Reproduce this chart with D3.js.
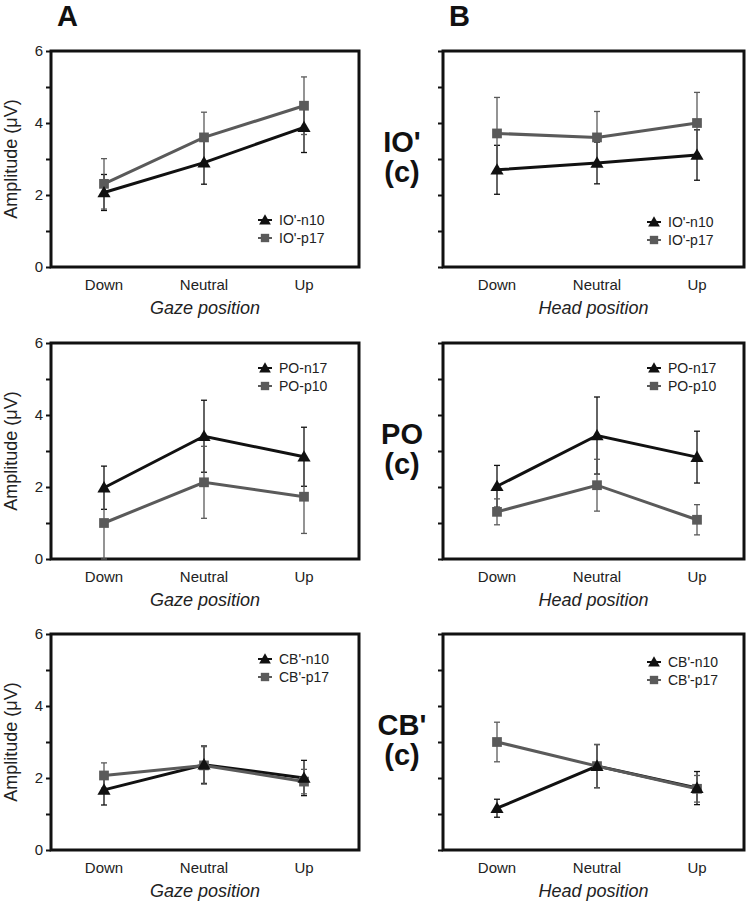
<!DOCTYPE html>
<html>
<head>
<meta charset="utf-8">
<script src="https://d3js.org/d3.v7.min.js"></script>
<style>
body { margin: 0; background: #fff; }
text { font-family: Arial, "Liberation Sans", sans-serif; }
</style>
</head>
<body>
<svg id="fig" width="749" height="906"></svg>
<script>
const categories = ["Down", "Neutral", "Up"];
const rowLabels = ["IO'", "PO", "CB'"];
const blackNames = ["IO'-n10", "PO-n17", "CB'-n10"];
const grayNames = ["IO'-p17", "PO-p10", "CB'-p17"];
const yTicks = [0, 1, 2, 3, 4, 5, 6];

// column A : gaze position (rows IO', PO, CB')
const gazeBlack    = [[2.07, 2.90, 3.88], [1.98, 3.41, 2.84], [1.67, 2.37, 2.00]];
const gazeBlackErr = [[0.50, 0.60, 0.70], [0.60, 1.00, 0.82], [0.42, 0.52, 0.49]];
const gazeGray     = [[2.31, 3.60, 4.48], [1.00, 2.13, 1.73], [2.07, 2.35, 1.90]];
const gazeGrayErr  = [[0.70, 0.70, 0.80], [1.00, 1.00, 1.02], [0.35, 0.52, 0.34]];

// column B : head position
const headBlack    = [[2.70, 2.89, 3.11], [2.02, 3.43, 2.83], [1.16, 2.33, 1.72]];
const headBlackErr = [[0.68, 0.58, 0.70], [0.58, 1.07, 0.72], [0.25, 0.60, 0.46]];
const headGray     = [[3.71, 3.60, 4.00], [1.31, 2.05, 1.09], [3.00, 2.33, 1.70]];
const headGrayErr  = [[1.00, 0.72, 0.85], [0.36, 0.72, 0.42], [0.55, 0.60, 0.37]];

const BLACK = "#111", GRAY = "#5a5a5a";
const svg = d3.select("#fig");
const rowTop = [51, 343, 634];
const plotH = 216;

const cols = [
  {letter: "A", left: 51, width: 308, padL: 53, padR: 55, title: "Gaze position",
   black: gazeBlack, blackErr: gazeBlackErr, gray: gazeGray, grayErr: gazeGrayErr,
   yLabels: true, legDx: 214, legDy: [169, 25, 25]},
  {letter: "B", left: 443, width: 301, padL: 54, padR: 47, title: "Head position",
   black: headBlack, blackErr: headBlackErr, gray: headGray, grayErr: headGrayErr,
   yLabels: false, legDx: 211, legDy: [171, 25, 28]}
];

const triangle = d3.symbol().type(d3.symbolTriangle).size(75);
const square = d3.symbol().type(d3.symbolSquare).size(95);
const triSmall = d3.symbol().type(d3.symbolTriangle).size(60);
const sqSmall = d3.symbol().type(d3.symbolSquare).size(70);

cols.forEach(col => {
  svg.append("text").attr("x", col.left + 6).attr("y", 26)
    .attr("font-size", 29).attr("font-weight", "bold").attr("fill", "#111")
    .text(col.letter);

  rowLabels.forEach((rl, r) => {
    const top = rowTop[r];
    const g = svg.append("g");
    const x = d3.scalePoint().domain(categories)
      .range([col.left + col.padL, col.left + col.width - col.padR]);
    const y = d3.scaleLinear().domain([0, 6]).range([top + plotH, top]);

    // y axis ticks
    const ax = g.append("g").attr("transform", `translate(${col.left},0)`)
      .call(d3.axisLeft(y).tickValues(yTicks).tickSize(5).tickPadding(3)
        .tickFormat(d => col.yLabels && d % 2 === 0 ? d : ""));
    ax.select(".domain").remove();
    ax.selectAll(".tick line").attr("stroke", BLACK).attr("stroke-width", 2);
    ax.selectAll(".tick text").attr("font-size", 15).attr("fill", "#222")
      .attr("font-family", "Arial, 'Liberation Sans', sans-serif");

    // frame
    g.append("rect").attr("x", col.left).attr("y", top)
      .attr("width", col.width).attr("height", plotH)
      .attr("fill", "none").attr("stroke", BLACK).attr("stroke-width", 3);

    // x tick labels
    g.selectAll("text.xl").data(categories).join("text").attr("class", "xl")
      .attr("x", d => x(d)).attr("y", top + plotH + 23)
      .attr("text-anchor", "middle").attr("font-size", 15).attr("fill", "#222")
      .text(d => d);

    g.append("text").attr("x", col.left + col.width / 2).attr("y", top + plotH + 47)
      .attr("text-anchor", "middle").attr("font-size", 18).attr("font-style", "italic")
      .attr("fill", "#222").text(col.title);

    if (col.yLabels) {
      g.append("text").attr("transform", `translate(17,${top + plotH / 2}) rotate(-90)`)
        .attr("text-anchor", "middle").attr("font-size", 18).attr("fill", "#222")
        .text("Amplitude (\u03bcV)");
    } else {
      g.append("text").attr("x", 402).attr("y", top + 101).attr("text-anchor", "middle")
        .attr("font-size", 29).attr("font-weight", "bold").attr("fill", "#111").text(rl);
      g.append("text").attr("x", 402).attr("y", top + 131).attr("text-anchor", "middle")
        .attr("font-size", 29).attr("font-weight", "bold").attr("fill", "#111").text("(c)");
    }

    const series = [
      {vals: col.black[r], errs: col.blackErr[r], color: BLACK, sym: triangle},
      {vals: col.gray[r], errs: col.grayErr[r], color: GRAY, sym: square}
    ];
    const line = d3.line().x((d, i) => x(categories[i])).y(d => y(d));

    series.forEach(s => {
      g.append("path").datum(s.vals).attr("d", line)
        .attr("fill", "none").attr("stroke", s.color).attr("stroke-width", 3);
    });
    series.forEach(s => {
      s.vals.forEach((v, i) => {
        const cx = x(categories[i]);
        const lo = y(Math.max(0, v - s.errs[i])), hi = y(v + s.errs[i]);
        g.append("line").attr("x1", cx).attr("x2", cx).attr("y1", lo).attr("y2", hi)
          .attr("stroke", s.color).attr("stroke-width", 1.3);
        [v - s.errs[i], v + s.errs[i]].forEach(e => {
          if (e < 0) return;
          g.append("line").attr("x1", cx - 3).attr("x2", cx + 3)
            .attr("y1", y(e)).attr("y2", y(e))
            .attr("stroke", s.color).attr("stroke-width", 1.3);
        });
      });
    });
    [series[1], series[0]].forEach(s => {
      g.selectAll(null).data(s.vals).join("path")
        .attr("transform", (d, i) => `translate(${x(categories[i])},${y(d) + (s.sym === triangle ? 1 : 0)})`)
        .attr("d", s.sym).attr("fill", s.color);
    });

    // legend
    const lx = col.left + col.legDx, ly = top + col.legDy[r];
    [[blackNames[r], BLACK, triSmall], [grayNames[r], GRAY, sqSmall]].forEach((it, k) => {
      const yy = ly + k * 18;
      g.append("line").attr("x1", lx - 7).attr("x2", lx + 7).attr("y1", yy).attr("y2", yy)
        .attr("stroke", it[1]).attr("stroke-width", 2);
      g.append("path").attr("transform", `translate(${lx},${yy + (k === 0 ? 1 : 0)})`)
        .attr("d", it[2]).attr("fill", it[1]);
      g.append("text").attr("x", lx + 14).attr("y", yy + 5).attr("font-size", 14)
        .attr("fill", "#222").text(it[0]);
    });
  });
});
</script>
</body>
</html>
